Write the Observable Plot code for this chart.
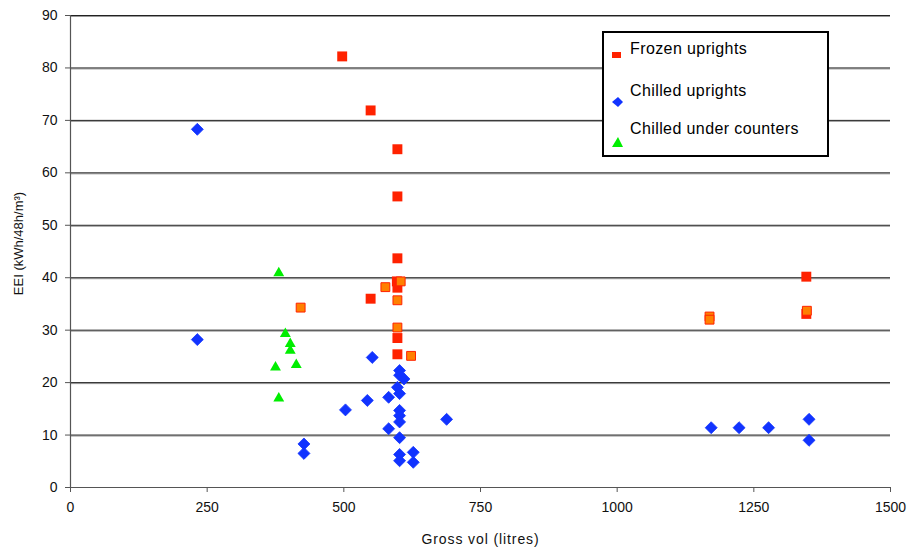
<!DOCTYPE html>
<html>
<head>
<meta charset="utf-8">
<script src="https://cdn.jsdelivr.net/npm/d3@7"></script>
<script src="https://cdn.jsdelivr.net/npm/@observablehq/plot@0.6"></script>
<style>
  html, body { margin: 0; padding: 0; background: #fff; }
  #wrap { position: relative; width: 907px; height: 554px; font-family: "Liberation Sans", Arial, sans-serif; }
  #legend { position: absolute; left: 602px; top: 31px; width: 227px; height: 126px; box-sizing: border-box;
            border: 2px solid #000; background: #fff; }
  .item { position: absolute; left: 6px; font-size: 16px; letter-spacing: 0.4px; color: #000; white-space: nowrap; }
  .item svg { position: absolute; left: 0; }
  .item span { position: absolute; left: 20px; top: 0; }
</style>
</head>
<body>
<div id="wrap"></div>
<script>
// ---- data ----
const xTicks = [0, 250, 500, 750, 1000, 1250, 1500];
const yTicks = [0, 10, 20, 30, 40, 50, 60, 70, 80, 90];

const frozenVol = [497, 549, 598, 598, 598, 597, 598, 549, 598, 598, 1346, 1346];
const frozenEEI = [82.2, 71.9, 64.5, 55.5, 43.7, 39.3, 38.1, 36.0, 28.5, 25.4, 40.2, 33.1];

const frozenOtherVol = [421, 576, 604, 598, 598, 623, 1169, 1169, 1347];
const frozenOtherEEI = [34.3, 38.2, 39.3, 35.7, 30.5, 25.1, 32.6, 32.0, 33.7];

const chilledVol = [232, 232, 552, 503, 543, 582, 582, 602, 602, 610, 598, 602, 602, 602, 602, 602, 602, 602, 627, 627, 688, 427, 427, 1172, 1223, 1277, 1351, 1351];
const chilledEEI = [68.3, 28.2, 24.8, 14.8, 16.6, 17.2, 11.2, 22.3, 21.4, 20.7, 19.1, 17.9, 14.7, 13.7, 12.5, 9.5, 6.3, 5.1, 6.7, 4.8, 13.0, 8.3, 6.5, 11.4, 11.4, 11.4, 13.0, 9.0];

const underVol = [381, 393, 402, 402, 413, 375, 381];
const underEEI = [40.9, 29.3, 27.4, 26.1, 23.4, 22.9, 17.0];

const seriesNames = ["Frozen uprights", "Chilled uprights", "Chilled under counters"];
const xTitle = "Gross vol (litres)";
const yTitle = "EEI (kWh/48h/m³)";

const toRows = (xs, ys) => xs.map((v, i) => ({vol: v, eei: ys[i]}));
const frozen = toRows(frozenVol, frozenEEI);
const frozenOther = toRows(frozenOtherVol, frozenOtherEEI);
const chilled = toRows(chilledVol, chilledEEI);
const under = toRows(underVol, underEEI);

const RED = "#ff2200", ORANGE = "#ff8000", BLUE = "#1133ff", GREEN = "#00ee00";

const chart = Plot.plot({
  width: 907,
  height: 554,
  marginLeft: 70,
  marginRight: 17,
  marginTop: 15,
  marginBottom: 67,
  style: {fontFamily: "'Liberation Sans', Arial, sans-serif", fontSize: "14px", color: "#111", background: "#fff"},
  x: {domain: [0, 1500]},
  y: {domain: [0, 90]},
  marks: [
    Plot.ruleY(yTicks.filter(d => d > 0), {stroke: "#999", dy: 1, strokeWidth: 1}),
    Plot.ruleY(yTicks.filter(d => d > 0), {stroke: "#222", strokeWidth: 1}),
    Plot.ruleX([0], {stroke: "#555", strokeWidth: 1.2}),
    Plot.ruleY([0], {stroke: "#555", strokeWidth: 1.2}),
    Plot.axisX({ticks: xTicks, tickFormat: d3.format("d"), tickSize: 5, tickPadding: 10, label: null, stroke: "#555", fontSize: 14}),
    Plot.axisY({ticks: yTicks, tickFormat: d3.format("d"), tickSize: 5, tickPadding: 8, label: null, stroke: "#555", fontSize: 14}),
    Plot.text([xTitle], {frameAnchor: "bottom", dy: 56, fontSize: 14, fill: "#111"}),
    Plot.text([yTitle], {frameAnchor: "left", textAnchor: "middle", dx: -52, dy: -8, rotate: -90, fontSize: 13, fill: "#111"}),
    Plot.dot(frozen, {x: "vol", y: "eei", symbol: "square", r: 5.6, fill: RED, stroke: "none"}),
    Plot.dot(frozenOther, {x: "vol", y: "eei", symbol: "square", r: 5.0, fill: ORANGE, stroke: RED, strokeWidth: 1}),
    Plot.dot(chilled, {x: "vol", y: "eei", symbol: "diamond2", r: 5.4, fill: BLUE, stroke: BLUE, strokeWidth: 0.8}),
    Plot.dot(under, {x: "vol", y: "eei", symbol: "triangle2", r: 5.2, fill: GREEN, stroke: "none"})
  ]
});

const wrap = document.getElementById("wrap");
wrap.appendChild(chart);

// slight letter spacing on the axis title, as in the reference
d3.select(chart).selectAll("text").filter(function() { return this.textContent === xTitle; })
  .style("letter-spacing", "0.9px");

const legend = document.createElement("div");
legend.id = "legend";
const legendSymbols = [
  `<svg width="12" height="10" style="top:10px"><rect x="2" y="2" width="9" height="6" fill="${RED}"/></svg>`,
  `<svg width="14" height="12" style="top:14px"><path d="M8,1 L13,6 L8,11 L2,6 Z" fill="${BLUE}"/></svg>`,
  `<svg width="14" height="12" style="top:16px"><path d="M8,1 L13,11 L2,11 Z" fill="${GREEN}"/></svg>`
];
const legendTops = [7, 49, 87];
seriesNames.forEach((name, i) => {
  const it = document.createElement("div");
  it.className = "item";
  it.style.top = legendTops[i] + "px";
  it.innerHTML = legendSymbols[i] + `<span>${name}</span>`;
  legend.appendChild(it);
});
wrap.appendChild(legend);
</script>
</body>
</html>
